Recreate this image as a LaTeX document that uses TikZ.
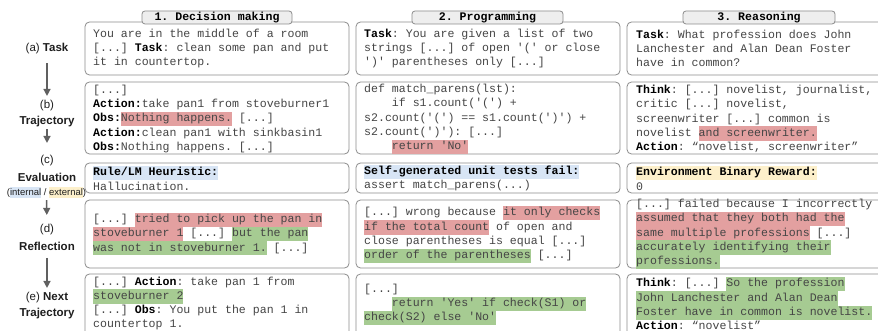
\documentclass[tikz,border=0pt]{standalone}
\usepackage{fontspec}
\setmainfont{Liberation Sans}
\setmonofont{Liberation Mono}
\usetikzlibrary{arrows.meta}
\definecolor{hlred}{HTML}{E3A0A0}
\definecolor{hlgreen}{HTML}{A6CB92}
\definecolor{hlblue}{HTML}{D8E5F5}
\definecolor{hlyellow}{HTML}{FDF0CB}
\definecolor{boxgray}{HTML}{8C8C8C}
\definecolor{tabfill}{HTML}{EEEEEE}
\definecolor{txt}{HTML}{454545}
\definecolor{arrgray}{HTML}{606060}
\newcommand\hlr[1]{{\setlength\fboxsep{0pt}\colorbox{hlred}{\strut#1}}}
\newcommand\hlg[1]{{\setlength\fboxsep{0pt}\colorbox{hlgreen}{\strut#1}}}
\newcommand\hlb[1]{{\setlength\fboxsep{0pt}\colorbox{hlblue}{\strut#1}}}
\newcommand\hly[1]{{\setlength\fboxsep{0pt}\colorbox{hlyellow}{\strut#1}}}
\newcommand\kw[1]{{\color{black}\textbf{#1}}}
\tikzset{
  panel/.style={draw=boxgray, line width=0.8pt, rounded corners=4.5pt},
  tabbox/.style={draw=boxgray, line width=0.8pt, rounded corners=3pt, fill=tabfill,
    minimum height=13pt, inner sep=0pt, text=black,
    font=\ttfamily\bfseries\fontsize{11.57}{13}\selectfont},
  body/.style={anchor=west, align=left, inner sep=0pt, text=txt,
    font=\ttfamily\fontsize{11.57}{14.3}\selectfont},
  lab/.style={align=center, inner sep=0pt, text=black!88,
    font=\fontsize{11.5}{13}\selectfont},
  arr/.style={draw=arrgray, line width=1.4pt, -{Triangle[length=7pt,width=7pt]}}
}
\begin{document}
\begin{tikzpicture}[x=1pt,y=-1pt]
\useasboundingbox (0,0) rectangle (878,331);
\clip (0,0) rectangle (878,331);
\fill[white] (0,0) rectangle (878,331);

% panels
\foreach \xa/\xb in {85/349, 356/620, 627/900}{
  \draw[panel] (\xa,22) rectangle (\xb,75);
  \draw[panel] (\xa,82) rectangle (\xb,154);
  \draw[panel] (\xa,163) rectangle (\xb,193);
  \draw[panel] (\xa,200) rectangle (\xb,268);
  \draw[panel] (\xa,274) rectangle (\xb,337);
}

% column tabs
\node[tabbox, minimum width=150pt] (t1) at (217,17.5) {1. Decision making};
\node[tabbox, minimum width=151pt] (t2) at (487.5,17.5) {2. Programming};
\node[tabbox, minimum width=152pt] (t3) at (759,17.5) {3. Reasoning};

% row (a)
\node[body] (a1) at (93,48.5) {You are in the middle of a room\\{}[...] \kw{Task}: clean some pan and put\\it in countertop.};
\node[body] (a2) at (364,48.5) {\kw{Task}: You are given a list of two\\strings [...] of open '(' or close\\')' parentheses only [...]};
\node[body] (a3) at (636,48.5) {\kw{Task}: What profession does John\\Lanchester and Alan Dean Foster\\have in common?};

% row (b)
\node[body] (b1) at (93,119) {[...]\\\kw{Action:}take pan1 from stoveburner1\\\kw{Obs:}\hlr{Nothing happens.} [...]\\\kw{Action:}clean pan1 with sinkbasin1\\\kw{Obs:}Nothing happens. [...]};
\node[body] (b2) at (364,119) {def match\_parens(lst):\\~~~~if s1.count('(') +\\s2.count('(') == s1.count(')') +\\s2.count(')'): [...]\\~~~~\hlr{return 'No'}};
\node[body] (b3) at (636,119) {\kw{Think}: [...] novelist, journalist,\\critic [...] novelist,\\screenwriter [...] common is\\novelist \hlr{and screenwriter.}\\\kw{Action}: “novelist, screenwriter”};

% row (c)
\node[body] (c1) at (93,178) {\hlb{\kw{Rule/LM Heuristic:}}\\Hallucination.};
\node[body] (c2) at (364,178) {\hlb{\kw{Self-generated unit tests fail:}}\\assert match\_parens(...)};
\node[body] (c3) at (636,178) {\hly{\kw{Environment Binary Reward:}}\\0};

% row (d)
\node[body] (d1) at (93,234) {[...] \hlr{tried to pick up the pan in}\\\hlr{stoveburner 1} [...] \hlg{but the pan}\\\hlg{was not in stoveburner 1.} [...]};
\node[body] (d2) at (364,234.5) {[...] wrong because \hlr{it only checks}\\\hlr{if the total count} of open and\\close parentheses is equal [...]\\\hlg{order of the parentheses} [...]};
\node[body] (d3) at (636,234) {[...] failed because I incorrectly\\\hlr{assumed that they both had the}\\\hlr{same multiple professions} [...]\\\hlg{accurately identifying their}\\\hlg{professions.}};

% row (e)
\node[body] (e1) at (93,303.5) {[...] \kw{Action}: take pan 1 from\\\hlg{stoveburner 2}\\{}[...] \kw{Obs}: You put the pan 1 in\\countertop 1.};
\node[body] (e2) at (364,304.5) {[...]\\~~~~\hlg{return 'Yes' if check(S1) or}\\\hlg{check(S2) else 'No'}};
\node[body] (e3) at (636,303.5) {\kw{Think}: [...] \hlg{So the profession}\\\hlg{John Lanchester and Alan Dean}\\\hlg{Foster have in common is novelist.}\\\kw{Action}: “novelist”};

% left labels
\node[lab] (la) at (47,49) {(a) \textbf{Task}};
\node[lab] (lb1) at (47,106) {(b)};
\node[lab] (lb2) at (47,122) {\textbf{Trajectory}};
\node[lab] (lc1) at (47,161) {(c)};
\node[lab] (lc2) at (47,177) {\textbf{Evaluation}};
\node[lab, font=\fontsize{9.5}{11}\selectfont] (lc3) at (46.5,193) {(\hlb{internal} / \hly{external})};
\node[lab] (ld1) at (47,230) {(d)};
\node[lab] (ld2) at (47,246) {\textbf{Reflection}};
\node[lab] (le1) at (47,298) {(e) \textbf{Next}};
\node[lab] (le2) at (47,314) {\textbf{Trajectory}};

% arrows
\draw[arr, shorten <=8.5pt, shorten >=4.5pt] (la) -- (lb1);
\draw[arr, shorten <=1.7pt, shorten >=12.5pt] (lb2) -- (lc1);
\draw[arr, shorten <=1.5pt, shorten >=9.5pt] (lc3) -- (ld1);
\draw[arr, shorten <=7.5pt, shorten >=4.5pt] (ld2) -- (le1);
\end{tikzpicture}
\end{document}
